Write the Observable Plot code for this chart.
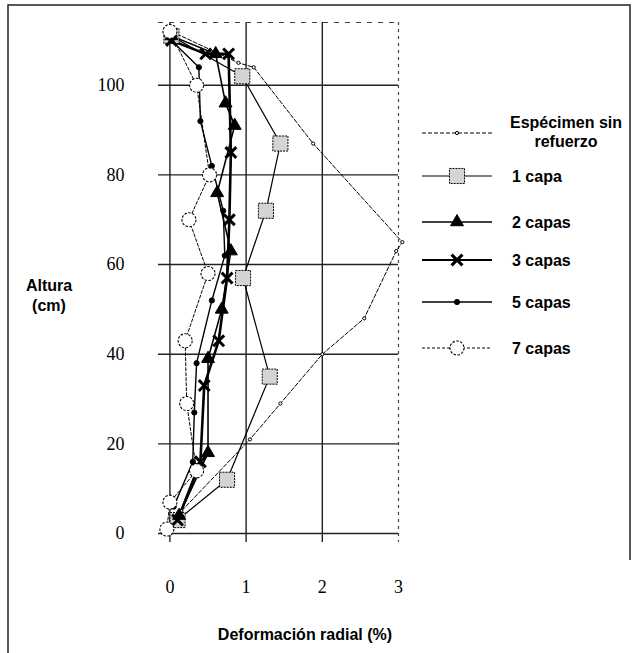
<!DOCTYPE html>
<html><head><meta charset="utf-8">
<script src="https://cdn.jsdelivr.net/npm/d3@7"></script>
<script src="https://cdn.jsdelivr.net/npm/@observablehq/plot@0.6"></script>
<style>body{margin:0;background:#fff}#chart{width:635px;height:653px}</style>
</head><body><div id="chart"></div>
<script>
// ---- data ----
const xTicks = [0, 1, 2, 3];
const yTicks = [0, 20, 40, 60, 80, 100];
const seriesNames = ["Espécimen sin refuerzo", "1 capa", "2 capas", "3 capas", "5 capas", "7 capas"];

const sinRefuerzoDef = [0.02, 0.9, 1.1, 1.88, 3.05, 2.97, 2.55, 2.0, 1.45, 1.05, 0.15, 0.0];
const sinRefuerzoAlt = [112, 105, 104, 87, 65, 63, 48, 40, 29, 21, 5, 1];

const capa1Def = [0.02, 0.95, 1.45, 1.26, 0.96, 1.31, 0.75, 0.1];
const capa1Alt = [111, 102, 87, 72, 57, 35, 12, 3];

const capas2Def = [0.02, 0.6, 0.73, 0.85, 0.62, 0.8, 0.68, 0.5, 0.5, 0.12];
const capas2Alt = [111, 107, 96, 91, 76, 63, 50, 39, 18, 4];

const capas3Def = [0.02, 0.47, 0.77, 0.8, 0.78, 0.75, 0.64, 0.45, 0.4, 0.1];
const capas3Alt = [110, 107, 107, 85, 70, 57, 43, 33, 16, 3];

const capas5Def = [0.02, 0.38, 0.4, 0.55, 0.7, 0.72, 0.55, 0.35, 0.32, 0.3, 0.05];
const capas5Alt = [110, 104, 92, 82, 72, 62, 52, 38, 27, 16, 6];

const capas7Def = [0.0, 0.35, 0.52, 0.25, 0.5, 0.2, 0.22, 0.35, 0.0, -0.04];
const capas7Alt = [112, 100, 80, 70, 58, 43, 29, 14, 7, 1];

const seriesDef = [sinRefuerzoDef, capa1Def, capas2Def, capas3Def, capas5Def, capas7Def];
const seriesAlt = [sinRefuerzoAlt, capa1Alt, capas2Alt, capas3Alt, capas5Alt, capas7Alt];

// ---- styles ----
const styles = {
  "Espécimen sin refuerzo": {lw: 1, dash: "4,2", sym: "circle", r: 1.6, fill: "white", sw: 1, sdash: null},
  "1 capa":  {lw: 1.2, dash: null, sym: "square", r: 8.5, fill: "#d4d4d4", sw: 1, sdash: "2,1"},
  "2 capas": {lw: 1.6, dash: null, sym: "triangle", r: 4.8, fill: "black", sw: 1, sdash: null},
  "3 capas": {lw: 2.6, dash: null, sym: "times", r: 5, fill: "none", sw: 3, sdash: null},
  "5 capas": {lw: 1.4, dash: null, sym: "circle", r: 2.6, fill: "black", sw: 1, sdash: null},
  "7 capas": {lw: 1, dash: "3,2", sym: "circle", r: 7, fill: "white", sw: 1.1, sdash: "2.5,1.5"}
};

const rows = seriesNames.flatMap((s, i) => seriesDef[i].map((d, j) => ({serie: s, def: d, alt: seriesAlt[i][j]})));

const W = 635, H = 653;
const lineMarks = seriesNames.map(s => Plot.line(rows.filter(r => r.serie === s), {
  x: "def", y: "alt", stroke: "black", strokeWidth: styles[s].lw, strokeDasharray: styles[s].dash
}));
const dotMarks = seriesNames.map(s => Plot.dot(rows.filter(r => r.serie === s), {
  x: "def", y: "alt", symbol: () => styles[s].sym, r: styles[s].r,
  fill: styles[s].fill, stroke: "black", strokeWidth: styles[s].sw, strokeDasharray: styles[s].sdash
}));

const chart = Plot.plot({
  width: W, height: H,
  marginLeft: 158, marginRight: W - 398, marginTop: 22, marginBottom: H - 542,
  style: {background: "white", overflow: "visible"},
  x: {domain: [-0.15, 3.0]},
  y: {domain: [-2, 114]},
  symbol: {type: "identity"},
  marks: [
    Plot.ruleX(xTicks.filter(t => t < 3), {stroke: "#222", strokeWidth: 1.4}),
    Plot.ruleX(xTicks.filter(t => t === 3), {stroke: "#444", strokeWidth: 1.2, strokeDasharray: "3,4"}),
    Plot.ruleY(yTicks, {stroke: "#222", strokeWidth: 1.4}),
    Plot.ruleY([114], {stroke: "#444", strokeWidth: 1.2, strokeDasharray: "5,6"}),
    ...lineMarks,
    ...dotMarks,
    Plot.axisX(xTicks, {tickSize: 0, tickPadding: 38, fontSize: 18, fontFamily: "Liberation Serif", fill: "black", label: null}),
    Plot.axisY(yTicks, {tickSize: 0, tickPadding: 34, fontSize: 18, fontFamily: "Liberation Serif", fill: "black", label: null})
  ]
});
document.getElementById("chart").appendChild(chart);

// ---- frame, axis titles and legend ----
const svg = d3.select(chart);
const deco = svg.append("g");
deco.append("path").attr("d", "M8,653 L8,5 L630,5 L630,560").attr("fill", "none").attr("stroke", "#222").attr("stroke-width", 1.5);

const sans = "Liberation Sans, Arial, sans-serif";
const yTitle = deco.append("text").attr("font-family", sans).attr("font-weight", "bold").attr("font-size", 16).attr("text-anchor", "middle");
yTitle.append("tspan").attr("x", 49).attr("y", 291).text("Altura");
yTitle.append("tspan").attr("x", 49).attr("y", 311).text("(cm)");
deco.append("text").attr("x", 305).attr("y", 640).attr("font-family", sans).attr("font-weight", "bold").attr("font-size", 16).attr("text-anchor", "middle").text("Deformación radial (%)");

const legendY = [133, 176, 222, 260, 302, 348];
const symMap = {circle: d3.symbolCircle, square: d3.symbolSquare, triangle: d3.symbolTriangle, times: d3.symbolTimes};
seriesNames.forEach((s, i) => {
  const st = styles[s], y = legendY[i];
  const g = deco.append("g");
  g.append("line").attr("x1", 422).attr("x2", 492).attr("y1", y).attr("y2", y).attr("stroke", "black")
    .attr("stroke-width", Math.min(st.lw, 2)).attr("stroke-dasharray", st.dash);
  const r = st.r;
  g.append("path").attr("transform", `translate(457,${y})`).attr("d", d3.symbol(symMap[st.sym], Math.PI * r * r)())
    .attr("fill", st.fill).attr("stroke", "black").attr("stroke-width", st.sw).attr("stroke-dasharray", st.sdash);
  const t = g.append("text").attr("font-family", sans).attr("font-weight", "bold").attr("font-size", 16);
  if (i === 0) {
    t.attr("text-anchor", "middle");
    t.append("tspan").attr("x", 566).attr("y", 128).text("Espécimen sin");
    t.append("tspan").attr("x", 566).attr("y", 147).text("refuerzo");
  } else {
    t.attr("text-anchor", "start").attr("x", 512).attr("y", y + 6).text(s);
  }
});
</script></body></html>
